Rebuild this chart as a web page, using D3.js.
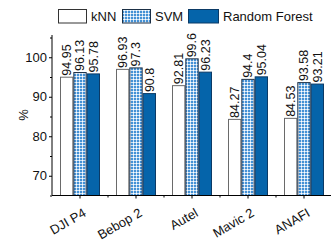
<!DOCTYPE html>
<html><head><meta charset="utf-8">
<script src="https://cdn.jsdelivr.net/npm/d3@7"></script>
<style>body{margin:0;background:#fff}svg{display:block;font-family:"Liberation Sans",Arial,sans-serif}</style>
</head><body>
<svg id="c" width="331" height="241"></svg>
<script>
const categories = ["DJI P4", "Bebop 2", "Autel", "Mavic 2", "ANAFI"];
const seriesNames = ["kNN", "SVM", "Random Forest"];
const knn = [94.95, 96.93, 92.81, 84.27, 84.53];
const svm = [96.13, 97.3, 99.6, 94.4, 93.58];
const rf = [95.78, 90.8, 96.23, 95.04, 93.21];
const yTicks = [70, 80, 90, 100];
const yMinor = [65, 75, 85, 95, 105];

const series = [knn, svm, rf];
const svg = d3.select("#c");
const defs = svg.append("defs");
const pat = defs.append("pattern").attr("id", "chk").attr("patternUnits", "userSpaceOnUse")
  .attr("width", 3).attr("height", 3);
pat.append("rect").attr("width", 3).attr("height", 3).attr("fill", "#2a82cf");
pat.append("path").attr("d", "M1.5,0 L3,1.5 L1.5,3 L0,1.5Z").attr("fill", "#ffffff");

const fills = ["#ffffff", "url(#chk)", "#0564aa"];
const strokes = ["#6a6a6a", "#1b2f45", "#0b3a66"];

const L = 52, R = 332, T = 35, B = 195.5;
const x = d3.scaleBand().domain(categories).range([L, R]).paddingInner(16/56).paddingOuter(8/56);
const xs = d3.scaleBand().domain(d3.range(3)).range([0, x.bandwidth()]);
const y = d3.scaleLinear().domain([65, 105]).range([B, 37.5]);

// bars
categories.forEach((c, i) => {
  series.forEach((s, j) => {
    const v = s[i];
    const bx = x(c) + xs(j);
    svg.append("rect").attr("x", bx + 0.5).attr("y", y(v))
      .attr("width", xs.bandwidth() - 1).attr("height", y(65) - y(v))
      .attr("fill", fills[j]).attr("stroke", strokes[j]).attr("stroke-width", 1);
    svg.append("text").attr("transform", `translate(${bx + xs.bandwidth()/2},${y(v) - 1.5}) rotate(-90)`)
      .attr("dy", "0.35em").attr("font-size", 12.5).attr("fill", "#111").text(String(v));
  });
});

// y axis
const ya = svg.append("g").attr("transform", `translate(${L},0)`)
  .call(d3.axisLeft(y).tickValues(yTicks).tickSize(3).tickPadding(2).tickFormat(d3.format("d")));
ya.select(".domain").remove();
ya.selectAll("text").attr("font-size", 13).attr("font-family", "Liberation Sans, Arial").attr("fill", "#111");
svg.append("g").attr("transform", `translate(${L},0)`)
  .call(d3.axisLeft(y).tickValues(yMinor).tickSize(2).tickFormat(""))
  .select(".domain").remove();
svg.append("line").attr("x1", L).attr("x2", L).attr("y1", T).attr("y2", B).attr("stroke", "#000");

// x axis
const xa = svg.append("g").attr("transform", `translate(0,${B})`)
  .call(d3.axisBottom(x).tickSize(3).tickFormat(""));
xa.select(".domain").remove();
svg.append("line").attr("x1", L).attr("x2", R).attr("y1", B).attr("y2", B).attr("stroke", "#000");
const bounds = d3.range(1, categories.length).map(k => L + k * x.step());
svg.selectAll(".xm").data(bounds).enter().append("line")
  .attr("x1", d => d).attr("x2", d => d).attr("y1", B).attr("y2", B + 2).attr("stroke", "#000");
svg.selectAll(".xl").data(categories).enter().append("text")
  .attr("transform", d => `translate(${x(d) + x.bandwidth()/2 + 7},${B + 20}) rotate(-30)`)
  .attr("text-anchor", "end").attr("font-size", 13).attr("fill", "#111").text(d => d);

// y label
svg.append("text").attr("transform", "translate(28,115) rotate(-90)").attr("text-anchor", "middle")
  .attr("font-size", 13).attr("fill", "#111").text("%");

// legend
const legX = [58, 122, 188];
const legW = [28, 28, 30];
seriesNames.forEach((n, j) => {
  svg.append("rect").attr("x", legX[j] + 0.5).attr("y", 9.5).attr("width", legW[j]).attr("height", 13.5)
    .attr("fill", fills[j]).attr("stroke", j === 0 ? "#333" : strokes[j]);
  svg.append("text").attr("x", legX[j] + legW[j] + 5).attr("y", 21).attr("font-size", 13)
    .attr("fill", "#111").text(n);
});
</script>
</body></html>
